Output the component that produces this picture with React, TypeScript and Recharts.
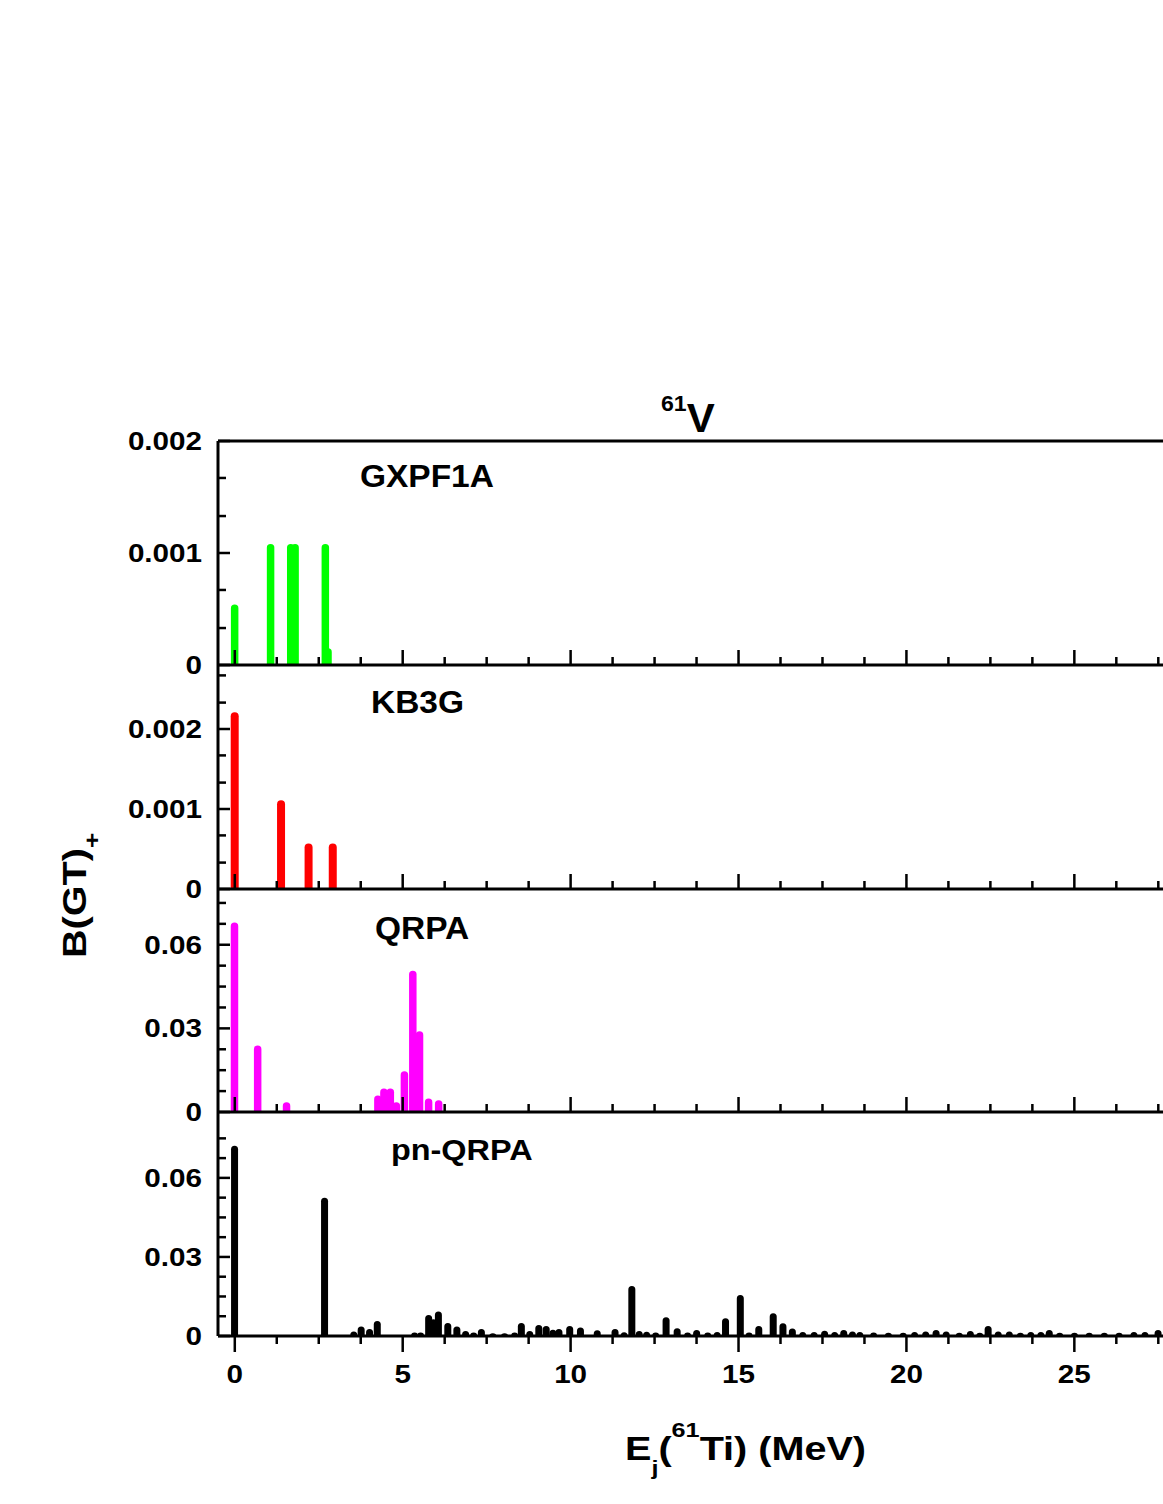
import React from "react";
import { BarChart, Bar, XAxis, YAxis, ReferenceLine } from "recharts";

const FONT = '"Liberation Sans", Arial, Helvetica, sans-serif';

// shared x axis, excitation energy in MeV
const xTicks = [0, 1.25, 2.5, 3.75, 5, 6.25, 7.5, 8.75, 10, 11.25, 12.5, 13.75, 15, 16.25, 17.5, 18.75, 20, 21.25, 22.5, 23.75, 25, 26.25, 27.5];
const xMajor = [0, 5, 10, 15, 20, 25];

// GXPF1A
const gxpfEnergy = [0.0, 1.07, 1.67, 1.8, 2.7, 2.78];
const gxpfStrength = [0.00054, 0.00108, 0.00108, 0.00108, 0.00108, 0.00015];
const gxpfYTicks = [0, 0.00033, 0.00067, 0.001, 0.00133, 0.00167, 0.002];
const milliLabels = [0, 0.001, 0.002];

// KB3G
const kb3gEnergy = [0.0, 1.38, 2.2, 2.92];
const kb3gStrength = [0.00221, 0.00111, 0.00057, 0.00057];
const kb3gYTicks = [0, 0.00033, 0.00067, 0.001, 0.00133, 0.00167, 0.002, 0.00233, 0.00267];

// QRPA
const qrpaEnergy = [0.0, 0.69, 1.55, 4.27, 4.45, 4.64, 4.82, 5.06, 5.31, 5.51, 5.78, 6.08];
const qrpaStrength = [0.068, 0.0239, 0.0035, 0.0059, 0.0084, 0.0084, 0.0035, 0.0146, 0.0507, 0.029, 0.0048, 0.0042];
const qrpaYTicks = [0, 0.0075, 0.015, 0.0225, 0.03, 0.0375, 0.045, 0.0525, 0.06, 0.0675, 0.075];
const centiLabels = [0, 0.03, 0.06];

// pn-QRPA
const pnEnergy = [
  0.0, 2.68, 3.55, 3.77, 4.02, 4.25, 5.36, 5.54, 5.78, 5.92, 6.07, 6.35, 6.62, 6.88, 7.12, 7.35,
  7.69, 8.04, 8.34, 8.54, 8.79, 9.06, 9.28, 9.48, 9.66, 9.98, 10.3, 10.8, 11.33, 11.6, 11.83, 12.05,
  12.27, 12.54, 12.85, 13.18, 13.49, 13.76, 14.09, 14.37, 14.62, 15.06, 15.32, 15.61, 16.04, 16.33,
  16.61, 16.92, 17.26, 17.57, 17.87, 18.14, 18.4, 18.62, 19.03, 19.47, 19.91, 20.25, 20.58, 20.89,
  21.19, 21.58, 21.91, 22.19, 22.44, 22.74, 23.07, 23.4, 23.71, 24.01, 24.26, 24.57, 25.01, 25.45,
  25.9, 26.34, 26.78, 27.11, 27.5,
];
const pnStrength = [
  0.0722, 0.0525, 0.0017, 0.0036, 0.0027, 0.0057, 0.0013, 0.0013, 0.008, 0.0064, 0.0093, 0.0049, 0.0036, 0.0019, 0.0013, 0.0027,
  0.001, 0.001, 0.0013, 0.0049, 0.0019, 0.0042, 0.0038, 0.0024, 0.0027, 0.0038, 0.0032, 0.0022, 0.0027, 0.0014, 0.019, 0.0019,
  0.0016, 0.0013, 0.0071, 0.0029, 0.0013, 0.0023, 0.0013, 0.0015, 0.0067, 0.0156, 0.0013, 0.0038, 0.0086, 0.0048,
  0.0028, 0.0015, 0.0015, 0.002, 0.0015, 0.0023, 0.0017, 0.0015, 0.0013, 0.0012, 0.0012, 0.0015, 0.0017, 0.0023,
  0.0017, 0.0012, 0.0019, 0.0012, 0.0038, 0.0017, 0.0017, 0.0012, 0.0015, 0.0015, 0.0023, 0.0012, 0.0012, 0.0012,
  0.0012, 0.0012, 0.0015, 0.0015, 0.0023,
];

const toRows = (es: number[], bs: number[]) => es.map((e, i) => ({ e, b: bs[i] }));

const near = (a: number, list: number[]) => list.some((v) => Math.abs(v - a) < 1e-7);

// bold text, slightly stretched sideways like the original figure
function SText({ x, y, size, anchor = "start", sx = 1.1, children }: any) {
  return (
    <text
      transform={`translate(${x},${y}) scale(${sx},1)`}
      textAnchor={anchor}
      fontFamily={FONT}
      fontWeight="bold"
      fontSize={size}
      fill="#000"
    >
      {children}
    </text>
  );
}

// drop line with a rounded cap, centred on the bar slot
const Stem = (props: any) => {
  const { x, y, width, height, w, color } = props;
  if (height == null || !(height > 0)) return null;
  const cx = x + width / 2;
  const r = w / 2;
  const bottom = y + height;
  const ry = Math.min(r, height);
  const d = `M${cx - r},${bottom} V${y + ry} A${r},${ry} 0 0 1 ${cx + r},${y + ry} V${bottom} Z`;
  return <path d={d} fill={color} />;
};

const XTick = (props: any) => {
  const { x, y, payload, down } = props;
  const major = near(payload.value, xMajor);
  const len = down ? (major ? 16 : 8) : major ? 15 : 8;
  return (
    <g>
      <line x1={x} x2={x} y1={y} y2={down ? y + len : y - len} stroke="#000" strokeWidth={2.5} />
      {down && major && (
        <SText x={x} y={y + 47} size={26} anchor="middle" sx={1.14}>
          {String(payload.value)}
        </SText>
      )}
    </g>
  );
};

const YTick = (props: any) => {
  const { x, y, payload, labels } = props;
  const major = near(payload.value, labels);
  return (
    <g>
      <line x1={x} x2={x + (major ? 12 : 8)} y1={y} y2={y} stroke="#000" strokeWidth={2.5} />
      {major && (
        <SText x={x - 16} y={y + 9} size={26} anchor="end" sx={1.14}>
          {String(payload.value)}
        </SText>
      )}
    </g>
  );
};

function Panel({ top, plotH, rows, color, barW, yMax, yTicks, yLabels, last, frameTop }: any) {
  const mb = last ? 60 : 20;
  return (
    <div style={{ position: "absolute", left: 0, top: top - 20 }}>
      <BarChart
        width={1163}
        height={plotH + 20 + mb}
        data={rows}
        barSize={barW}
        margin={{ top: 20, right: 0, bottom: mb - 1, left: 217 }}
      >
        <Bar
          dataKey="b"
          isAnimationActive={false}
          shape={(p: any) => <Stem {...p} w={barW} color={color} />}
        />
        <XAxis
          dataKey="e"
          type="number"
          domain={[-0.5, 27.64]}
          allowDataOverflow
          ticks={xTicks}
          interval={0}
          height={1}
          tickSize={0}
          tickMargin={0}
          tickLine={false}
          axisLine={{ stroke: "#000", strokeWidth: 3 }}
          tick={(p: any) => <XTick {...p} down={last} />}
        />
        <YAxis
          type="number"
          domain={[0, yMax]}
          allowDataOverflow
          ticks={yTicks}
          interval={0}
          width={1}
          tickSize={0}
          tickMargin={0}
          tickLine={false}
          axisLine={{ stroke: "#000", strokeWidth: 3 }}
          tick={(p: any) => <YTick {...p} labels={yLabels} />}
        />
        {frameTop && <ReferenceLine y={yMax} stroke="#000" strokeWidth={3} />}
      </BarChart>
    </div>
  );
}

export default function App() {
  return (
    <div
      style={{
        position: "absolute",
        left: 0,
        top: 0,
        width: 1163,
        height: 1504,
        overflow: "hidden",
        background: "#fff",
      }}
    >
      <Panel top={441} plotH={224} rows={toRows(gxpfEnergy, gxpfStrength)} color="#00FF00" barW={7.5}
        yMax={0.002} yTicks={gxpfYTicks} yLabels={milliLabels} frameTop />
      <Panel top={665} plotH={224} rows={toRows(kb3gEnergy, kb3gStrength)} color="#FF0000" barW={8}
        yMax={0.0028} yTicks={kb3gYTicks} yLabels={milliLabels} />
      <Panel top={889} plotH={223} rows={toRows(qrpaEnergy, qrpaStrength)} color="#FF00FF" barW={7.5}
        yMax={0.08} yTicks={qrpaYTicks} yLabels={centiLabels} />
      <Panel top={1112} plotH={224} rows={toRows(pnEnergy, pnStrength)} color="#000000" barW={7}
        yMax={0.085} yTicks={qrpaYTicks} yLabels={centiLabels} last />

      <svg width={1163} height={1504} style={{ position: "absolute", left: 0, top: 0, pointerEvents: "none" }}>
        <SText x={661} y={432} size={40} sx={1.05}>
          <tspan fontSize={22} dy={-21}>61</tspan>
          <tspan dy={21}>V</tspan>
        </SText>

        <SText x={360} y={487} size={31} sx={1.08}>GXPF1A</SText>
        <SText x={371} y={713} size={31} sx={1.08}>KB3G</SText>
        <SText x={375} y={939} size={31} sx={1.08}>QRPA</SText>
        <SText x={391} y={1160} size={30} sx={1.08}>pn-QRPA</SText>

        <text
          transform="translate(86,958) rotate(-90) scale(1.2,1)"
          fontFamily={FONT}
          fontWeight="bold"
          fontSize={33}
          fill="#000"
        >
          B(GT)
          <tspan fontSize={22} dy={14}>+</tspan>
        </text>

        <SText x={625} y={1460} size={33} sx={1.2}>
          E
          <tspan fontSize={21} dy={15}>j</tspan>
          <tspan dy={-15}>(</tspan>
          <tspan fontSize={21} dy={-23}>61</tspan>
          <tspan dy={23}>Ti) (MeV)</tspan>
        </SText>
      </svg>
    </div>
  );
}
